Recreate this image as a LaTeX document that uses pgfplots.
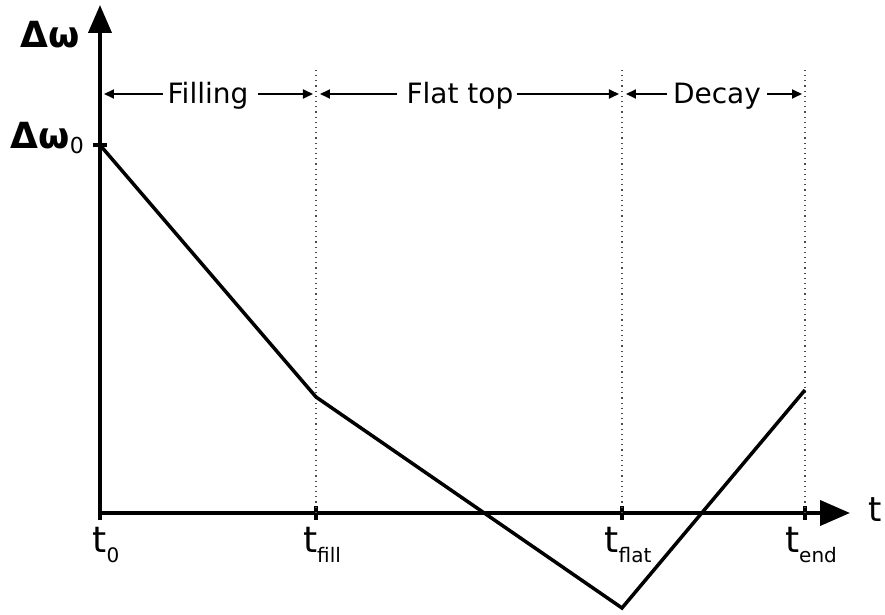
\documentclass[border=0pt]{standalone}
\usepackage{fontspec}
\setmainfont{DejaVu Sans}
\usepackage{pgfplots}
\pgfplotsset{compat=1.18}
\usetikzlibrary{arrows.meta}
\newcommand{\tsub}[1]{{\fontsize{18}{20}\selectfont t}\raisebox{-5pt}{\fontsize{10}{11}\selectfont #1}}
\begin{document}
\begin{tikzpicture}
\begin{axis}[
  x=0.5pt, y=0.5pt,
  xmin=0, xmax=750, ymin=0, ymax=508,
  axis lines=left,
  axis line style={line width=2pt},
  x axis line style={-{Triangle[length=15pt,width=12.5pt]}},
  y axis line style={-{Triangle[length=14pt,width=11.5pt]}},
  clip=false,
  xtick={0,216,522,705},
  xticklabels={\tsub{0},\tsub{fill},\tsub{flat},\tsub{end}},
  ytick={368},
  yticklabels={{\fontsize{18}{20}\selectfont\bfseries Δω}\raisebox{-2.5pt}{\fontsize{11}{12}\selectfont 0}},
  tick style={line width=2pt, black},
  major tick length=7pt,
  tick align=center,
  xticklabel style={anchor=north, xshift=3pt},
  yticklabel style={anchor=base east, xshift=-1pt, yshift=-2pt},
  xlabel={t},
  xlabel style={at={(axis description cs:1.024,-0.016)}, anchor=base west, inner sep=0pt, font=\fontsize{17}{18}\selectfont},
  ylabel={Δω},
  ylabel style={at={(axis description cs:-0.0667,0.941)}, anchor=center, rotate=-90, font=\fontsize{18}{20}\selectfont\bfseries},
]
\path (axis cs:-100,-102) rectangle (axis cs:785,513);
\addplot[dotted, line width=0.6pt, black!70] coordinates {(216,0) (216,443)};
\addplot[dotted, line width=0.6pt, black!70] coordinates {(522,0) (522,443)};
\addplot[dotted, line width=0.6pt, black!70] coordinates {(705,0) (705,443)};
\addplot[line width=1.75pt, black] coordinates {(0,368) (216,116) (522,-95) (705,123)};
\begin{scope}[line width=0.9pt, -{Triangle[length=5pt,width=4.5pt]}]
\draw (axis cs:63,419) -- (axis cs:4,419);
\draw (axis cs:158,419) -- (axis cs:213,419);
\draw (axis cs:297,419) -- (axis cs:220,419);
\draw (axis cs:417,419) -- (axis cs:519,419);
\draw (axis cs:567,419) -- (axis cs:526,419);
\draw (axis cs:667,419) -- (axis cs:702,419);
\end{scope}
\node[anchor=base, font=\fontsize{14}{16}\selectfont] at (axis cs:108,409) {Filling};
\node[anchor=base, font=\fontsize{14}{16}\selectfont] at (axis cs:360,409) {Flat top};
\node[anchor=base, font=\fontsize{14}{16}\selectfont] at (axis cs:617,409) {Decay};
\end{axis}
\end{tikzpicture}
\end{document}
